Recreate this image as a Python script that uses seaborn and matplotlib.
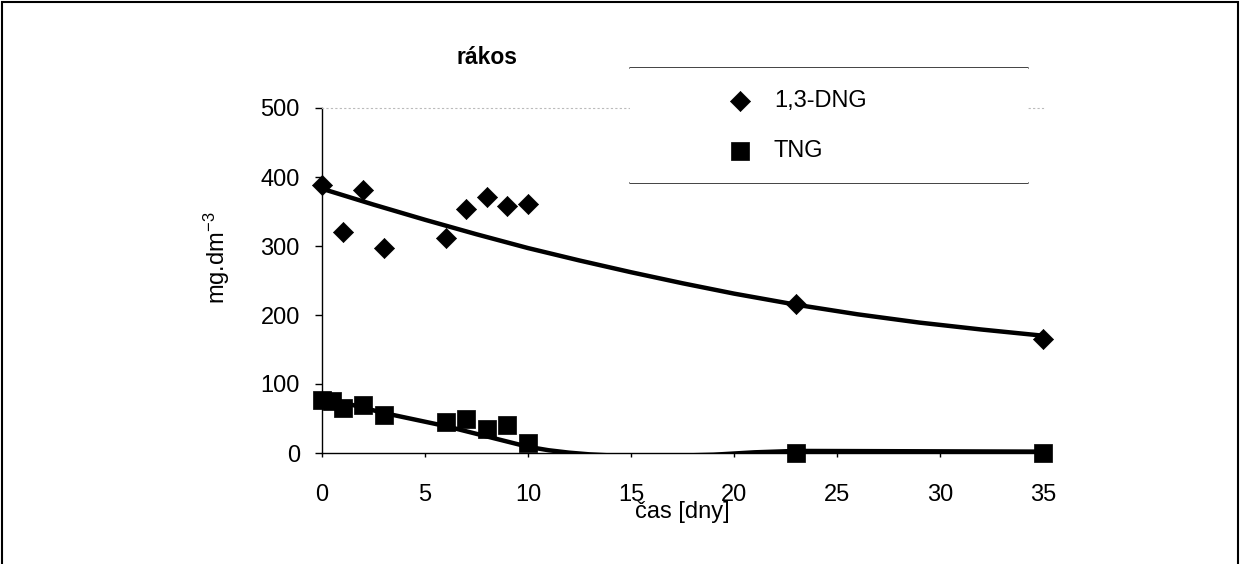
import numpy as np
import pandas as pd
import matplotlib
matplotlib.use('Agg')
import matplotlib.pyplot as plt
from matplotlib.lines import Line2D
from matplotlib.patches import Rectangle
import seaborn as sns

# data
cas_dng = [0, 1, 2, 3, 6, 7, 8, 9, 10, 23, 35]
dng = [388, 320, 381, 297, 311, 353, 371, 358, 361, 216, 165]

cas_tng = [0, 0.5, 1, 2, 3, 6, 7, 8, 9, 10, 23, 35]
tng = [77, 76, 65, 70, 55, 45, 49, 35, 41, 14, 0, 0]

# trend lines as drawn in the chart
trend_dng_x = [0, 2.5, 5, 7.5, 10, 12.5, 15, 17.5, 20, 23, 26, 29, 32, 35]
trend_dng_y = [383, 360, 338, 317, 297, 279, 262, 246, 231, 215, 201, 189, 179, 170]
trend_tng_x = [0, 3, 6, 8, 10, 11, 12, 13, 14, 15, 17, 19, 21, 23, 35]
trend_tng_y = [81, 58, 39, 24, 9, 4, 0.5, -2, -3.5, -4, -4, -2.5, 1, 3, 2]

sns.set_style('white')
plt.rcParams['font.family'] = ['Liberation Sans', 'DejaVu Sans']
plt.rcParams['mathtext.default'] = 'regular'
for k in ['text.color', 'axes.labelcolor', 'xtick.color', 'ytick.color']:
    plt.rcParams[k] = 'black'

fig = plt.figure(figsize=(12.41, 5.64), dpi=100)
ax = fig.add_axes([322/1241, 1-453/564, 721/1241, 345/564])

# trendy
sns.lineplot(x=trend_dng_x, y=trend_dng_y, color='black', lw=3.2, sort=False,
             estimator=None, ax=ax, legend=False)
sns.lineplot(x=trend_tng_x, y=trend_tng_y, color='black', lw=3.2, sort=False,
             estimator=None, ax=ax, legend=False)

# body
sns.scatterplot(x=cas_dng, y=dng, marker='D', s=105, color='black', edgecolor='black',
                linewidth=0.5, ax=ax, label='1,3-DNG', clip_on=False, zorder=3)
sns.scatterplot(x=cas_tng, y=tng, marker='s', s=150, color='black', edgecolor='black',
                linewidth=0.5, ax=ax, label='TNG', clip_on=False, zorder=3)

ax.set_xlim(0, 35)
ax.set_ylim(0, 500)
ax.set_xticks(range(0, 36, 5))
ax.set_yticks(range(0, 501, 100))
ax.tick_params(axis='y', direction='out', length=5, width=1, pad=11, labelsize=17, left=True)
ax.tick_params(axis='x', direction='out', length=3, width=1, pad=19, labelsize=17, bottom=True)

ax.spines['right'].set_visible(False)
ax.spines['top'].set_color('#bbbbbb')
ax.spines['top'].set_linestyle((0, (1, 3)))
ax.spines['left'].set_color('black')
ax.spines['bottom'].set_color('black')
ax.spines['left'].set_linewidth(1)
ax.spines['bottom'].set_linewidth(1)

ax.set_xlabel('čas [dny]', fontsize=17)
ax.xaxis.set_label_coords(0.5, -(501-453)/345)
ax.set_ylabel('mg.dm$^{-3}$', fontsize=17)
ax.yaxis.set_label_coords(-(322-232)/721, (453-258)/345)

fig.text(487/1241, 1-57/564, 'rákos', fontsize=16.5, fontweight='bold', ha='center', va='center')

# legenda
handles, labels = ax.get_legend_handles_labels()
ax.get_legend().remove()
fig.patches.append(Rectangle((630/1241, 1-183/564), 398/1241, 115/564,
                             transform=fig.transFigure, facecolor='white', edgecolor='none', zorder=2))
leg = fig.legend(handles, labels, loc='center left', bbox_to_anchor=(716/1241, 1-126/564),
                 frameon=False, fontsize=17, handlelength=1, handletextpad=0.95,
                 labelspacing=1.2, borderpad=0)
for y in [68, 183]:
    fig.add_artist(Line2D([630/1241, 1028/1241], [1-y/564]*2, color='#222222', lw=1.2))

# ramecek
fig.add_artist(Rectangle((2/1241, -0.05), 1-5/1241, 1.05-2/564, transform=fig.transFigure,
                         fill=False, edgecolor='black', lw=1.5))

fig.savefig('out.png', dpi=100)
